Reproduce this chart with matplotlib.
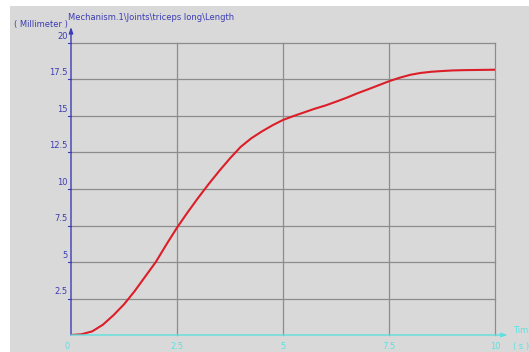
import numpy as np
import matplotlib
matplotlib.use("Agg")
import matplotlib.pyplot as plt
from matplotlib.patches import Rectangle

# triceps long length over time
time_s = [0, 0.25, 0.5, 0.75, 1, 1.25, 1.5, 1.75, 2, 2.25, 2.5, 2.75, 3, 3.25, 3.5, 3.75,
          4, 4.25, 4.5, 4.75, 5, 5.25, 5.5, 5.75, 6, 6.25, 6.5, 6.75, 7, 7.25, 7.5, 7.75,
          8, 8.25, 8.5, 8.75, 9, 9.25, 9.5, 9.75, 10]
length_mm = [0, 0.05, 0.25, 0.7, 1.35, 2.1, 3.0, 4.0, 5.0, 6.2, 7.35, 8.4, 9.4, 10.35,
             11.25, 12.1, 12.88, 13.47, 13.94, 14.36, 14.73, 15.0, 15.25, 15.5, 15.72,
             15.98, 16.25, 16.55, 16.82, 17.1, 17.38, 17.62, 17.82, 17.95, 18.03, 18.08,
             18.12, 18.14, 18.15, 18.16, 18.17]
x_ticks = [0, 2.5, 5, 7.5, 10]
y_ticks = [2.5, 5, 7.5, 10, 12.5, 15, 17.5, 20]

W, H = 529, 352
bg = "#d9d9d9"
blue = "#3c3cb4"
cyan = "#5fe0e0"
grid = "#8c8c8c"

fig = plt.figure(figsize=(W / 100, H / 100), dpi=100)
fig.patch.set_facecolor("white")
# gray plot panel
fig.patches.append(Rectangle((10 / W, 0), 1, 1 - 6 / H, transform=fig.transFigure,
                             facecolor=bg, edgecolor="none", zorder=-10))

x0, x1, y0, y1 = 71, 495, 335, 43
ax = fig.add_axes([x0 / W, (H - y0) / H, (x1 - x0) / W, (y0 - y1) / H])
ax.set_facecolor(bg)
ax.set_xlim(0, 10)
ax.set_ylim(0, 20)

for s in ax.spines.values():
    s.set_visible(False)

# grid
for t in x_ticks[1:]:
    ax.axvline(t, color=grid, lw=0.9, zorder=1, clip_on=False)
for v in y_ticks:
    ax.axhline(v, color=grid, lw=0.9, zorder=1, clip_on=False)

ax.plot(time_s, length_mm, color="#dc1e28", lw=1.5, zorder=3, solid_capstyle="round")

ax.set_xticks([])
ax.set_yticks([])

# axes with arrows
ax.annotate("", xy=(0, 21.1), xytext=(0, 0), xycoords="data",
            arrowprops=dict(arrowstyle="-|>,head_length=0.35,head_width=0.12",
                            color=blue, lw=1, shrinkA=0, shrinkB=0), annotation_clip=False)
ax.annotate("", xy=(10.3, 0), xytext=(0, 0), xycoords="data",
            arrowprops=dict(arrowstyle="-|>,head_length=0.35,head_width=0.12",
                            color=cyan, lw=1, shrinkA=0, shrinkB=0), annotation_clip=False, zorder=4)

fs = 6
for v in y_ticks:
    ax.plot([-0.06, 0], [v, v], color=blue, lw=0.8, clip_on=False)
    ax.text(-0.08, v + 0.15, f"{v:g}", color=blue, fontsize=fs, ha="right", va="bottom")
for t in x_ticks:
    ax.text(t - (0.08 if t == 0 else 0), -0.45, f"{t:g}", color=cyan, fontsize=fs,
            ha="center", va="top")

ax.text(10.42, 0.0, "Tim", color=cyan, fontsize=fs, ha="left", va="bottom")
ax.text(10.42, -0.5, "( s )", color=cyan, fontsize=fs, ha="left", va="top")

fig.text(68 / W, 1 - 18 / H, "Mechanism.1\\Joints\\triceps long\\Length", color=blue,
         fontsize=fs, ha="left", va="center")
fig.text(14 / W, 1 - 25 / H, "( Millimeter )", color=blue, fontsize=fs, ha="left", va="center")

fig.savefig("out.png", dpi=100, facecolor=fig.get_facecolor())
